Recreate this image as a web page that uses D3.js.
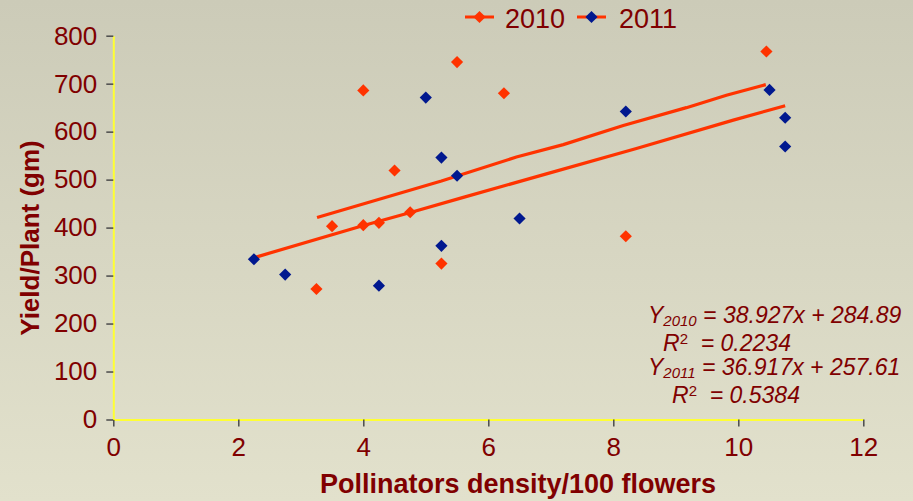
<!DOCTYPE html>
<html>
<head>
<meta charset="utf-8">
<script src="https://cdn.jsdelivr.net/npm/d3@7"></script>
<style>
  html, body { margin: 0; padding: 0; }
  body { width: 913px; height: 501px; overflow: hidden; }
  text { font-family: "Liberation Sans", Arial, sans-serif; }
</style>
</head>
<body>
<div id="chart"></div>
<script>
// data
var years = ['2010', '2011'];
var density2010 = [3.25, 3.5, 4, 4, 4.25, 4.5, 4.75, 5.25, 5.5, 6.25, 8.2, 10.45];
var yield2010 = [272, 403, 686, 405, 410, 519, 432, 325, 745, 680, 382, 767];
var density2011 = [2.25, 2.75, 4.25, 5, 5.25, 5.25, 5.5, 6.5, 8.2, 10.5, 10.75, 10.75];
var yield2011 = [334, 302, 279, 671, 546, 362, 508, 419, 642, 687, 629, 569];
// trend lines as traced in the picture
var trendX2010 = [3.26, 5.25, 6.45, 7.2, 8.16, 9.17, 9.81, 10.44];
var trendY2010 = [421, 497, 547, 573, 613, 650, 676, 698];
var trendX2011 = [2.27, 3.99, 4.74, 5.6, 6.93, 8.37, 9.92, 10.75];
var trendY2011 = [338, 404, 431, 463, 512, 565, 624, 654];
var xTicks = [0, 2, 4, 6, 8, 10, 12];
var yTicks = [0, 100, 200, 300, 400, 500, 600, 700, 800];
var equations = [
  { y: 'Y', sub: '2010', rest: ' = 38.927x + 284.89' },
  { r2: '0.2234' },
  { y: 'Y', sub: '2011', rest: ' = 36.917x + 257.61' },
  { r2: '0.5384' }
];

var width = 913, height = 501;
var darkRed = '#800000';
var colors = { '2010': '#ff3300', '2011': '#00188f' };

var svg = d3.select('#chart').append('svg')
  .attr('width', width)
  .attr('height', height);

var grad = svg.append('defs').append('linearGradient')
  .attr('id', 'bg').attr('x1', 0).attr('y1', 0).attr('x2', 0).attr('y2', 1);
grad.append('stop').attr('offset', '0%').attr('stop-color', '#cccbb8');
grad.append('stop').attr('offset', '100%').attr('stop-color', '#e2e1cc');

svg.append('rect').attr('width', width).attr('height', height).attr('fill', 'url(#bg)');

var x = d3.scaleLinear().domain([0, 12]).range([113.3, 863.3]);
var y = d3.scaleLinear().domain([0, 800]).range([419.5, 35.7]);

// axes
var xAxis = svg.append('g')
  .attr('transform', 'translate(0,' + y(0) + ')')
  .call(d3.axisBottom(x).tickValues(xTicks).tickSize(7).tickSizeOuter(0).tickPadding(11));
var yAxis = svg.append('g')
  .attr('transform', 'translate(' + x(0) + ',0)')
  .call(d3.axisLeft(y).tickValues(yTicks).tickSize(7).tickSizeOuter(0).tickPadding(9));

[xAxis, yAxis].forEach(function (ax) {
  ax.select('.domain').attr('stroke', '#ffff33').attr('stroke-width', 2);
  ax.selectAll('.tick line').attr('stroke', '#4a4a4a').attr('stroke-width', 1.5);
  ax.selectAll('.tick text')
    .attr('fill', darkRed)
    .attr('font-size', 26)
    .attr('font-family', '"Liberation Sans", Arial, sans-serif');
});

// axis titles
svg.append('text')
  .attr('x', 518).attr('y', 493)
  .attr('text-anchor', 'middle')
  .attr('font-size', 27).attr('font-weight', 'bold')
  .attr('fill', darkRed)
  .text('Pollinators density/100 flowers');

svg.append('text')
  .attr('transform', 'translate(39,238) rotate(-90)')
  .attr('text-anchor', 'middle')
  .attr('font-size', 26).attr('font-weight', 'bold')
  .attr('fill', darkRed)
  .text('Yield/Plant (gm)');

// trend lines
var line = d3.line()
  .x(function (d) { return x(d[0]); })
  .y(function (d) { return y(d[1]); });

var trends = [d3.zip(trendX2010, trendY2010), d3.zip(trendX2011, trendY2011)];
svg.append('g').selectAll('path')
  .data(trends)
  .enter().append('path')
  .attr('d', line)
  .attr('fill', 'none')
  .attr('stroke', colors['2010'])
  .attr('stroke-width', 3.2);

// points
var diamond = d3.symbol().type(d3.symbolSquare).size(74);
var series = [
  { year: '2010', pts: d3.zip(density2010, yield2010) },
  { year: '2011', pts: d3.zip(density2011, yield2011) }
];
series.forEach(function (s) {
  svg.append('g').selectAll('path')
    .data(s.pts)
    .enter().append('path')
    .attr('d', diamond)
    .attr('transform', function (d) { return 'translate(' + x(d[0]) + ',' + y(d[1]) + ') rotate(45)'; })
    .attr('fill', colors[s.year]);
});

// legend
var legendPos = [{ lx: 465, tx: 505 }, { lx: 577, tx: 619 }];
years.forEach(function (yr, i) {
  var g = svg.append('g');
  g.append('line')
    .attr('x1', legendPos[i].lx).attr('x2', legendPos[i].lx + 29)
    .attr('y1', 17).attr('y2', 17)
    .attr('stroke', colors['2010']).attr('stroke-width', 3);
  g.append('path')
    .attr('d', diamond)
    .attr('transform', 'translate(' + (legendPos[i].lx + 14.5) + ',17) rotate(45)')
    .attr('fill', colors[yr]);
  g.append('text')
    .attr('x', legendPos[i].tx).attr('y', 28)
    .attr('font-size', 27)
    .attr('fill', darkRed)
    .text(yr);
});

// equation block
var eqPos = [
  { x: 648, y: 323 },
  { x: 663, y: 351 },
  { x: 648, y: 375 },
  { x: 672, y: 403 }
];
equations.forEach(function (e, i) {
  var t = svg.append('text')
    .attr('x', eqPos[i].x).attr('y', eqPos[i].y)
    .attr('font-size', 23).attr('font-style', 'italic')
    .attr('fill', darkRed);
  if (e.sub) {
    t.append('tspan').text(e.y);
    t.append('tspan').attr('font-size', 15).attr('dy', 3).text(e.sub);
    t.append('tspan').attr('dy', -3).text(e.rest);
  } else {
    t.append('tspan').text('R');
    t.append('tspan').attr('font-size', 15).attr('dy', -7).attr('font-style', 'normal').text('2');
    t.append('tspan').attr('dy', 7).attr('xml:space', 'preserve').text('  = ' + e.r2);
  }
});
</script>
</body>
</html>
